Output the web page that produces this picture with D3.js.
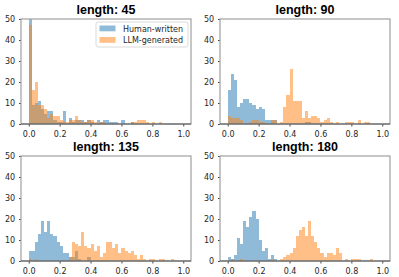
<!DOCTYPE html>
<html>
<head>
<meta charset="utf-8">
<script src="https://cdn.jsdelivr.net/npm/d3@7"></script>
<style>
  body { margin: 0; background: #fff; }
  svg { display: block; }
</style>
</head>
<body>
<div id="vis"></div>
<script>
// histogram counts, 50 bins of width 0.02 over [0, 1]
var binWidth = 0.02;
var titles = ["length: 45", "length: 90", "length: 135", "length: 180"];
var seriesNames = ["Human-written", "LLM-generated"];

var human45 = [60,9,10,11,7,5,6,6,2,1, 1,6,0,3,1,2,2,2,1,2, 1,0,2,1,2,2,1,1,1,0, 2,0,0,1,0,0,0,0,0,0, 0,0,0,0,0,0,0,0,0,0];
var llm45   = [47,16,20,9,9,7,3,5,4,4, 2,1,1,2,2,4,2,1,1,2, 2,1,0,1,1,0,0,0,0,0, 0,0,0,1,1,2,2,2,1,0, 1,0,1,0,0,0,0,0,0,0];

var human90 = [16,24,21,8,10,12,12,10,9,7, 8,7,2,2,2,2,0,0,0,0, 0,0,0,0,0,1,1,0,0,0, 0,0,0,0,0,0,0,0,0,0, 0,0,0,0,0,0,0,0,0,0];
var llm90   = [4,3,3,3,2,0,0,1,2,2, 1,1,0,0,2,2,0,1,8,14, 26,11,11,11,3,6,3,4,4,3, 1,2,3,1,0,1,0,0,1,1, 1,0,2,0,1,1,0,0,0,0];

var human135 = [5,5,9,13,19,14,19,13,12,9, 7,4,4,2,2,5,1,0,0,2, 0,0,0,0,0,0,0,0,0,0, 0,0,0,0,0,0,0,0,0,0, 0,0,0,0,0,0,0,0,0,0];
var llm135   = [1,0,1,0,0,0,0,0,0,0, 0,0,0,2,9,8,7,14,7,6, 8,5,7,2,4,9,9,6,8,4, 6,5,4,5,3,1,3,1,0,1, 1,0,1,1,0,0,1,0,0,0];

var human180 = [2,1,3,11,8,19,16,21,24,20, 10,5,6,1,3,1,0,0,0,0, 0,0,0,0,0,0,0,0,0,0, 0,0,0,0,0,0,0,0,0,0, 0,0,0,0,0,0,0,0,0,0];
var llm180   = [0,1,0,0,1,0,0,0,0,0, 0,0,0,0,1,0,0,1,2,3, 4,6,12,15,16,12,19,12,9,6, 4,2,4,4,3,6,4,0,1,0, 1,1,1,0,0,0,1,0,0,0];

var xTicks = [0, 0.2, 0.4, 0.6, 0.8, 1.0];
var yTicks = [0, 10, 20, 30, 40, 50];

var humanSeries = [human45, human90, human135, human180];
var llmSeries = [llm45, llm90, llm135, llm180];

var width = 399, height = 277;
var panelW = 170, panelH = 105;
var origins = [[21, 19], [220, 19], [21, 156], [220, 156]];
var colors = ["#1f77b4", "#ff7f0e"];

var svg = d3.select("#vis").append("svg")
  .attr("width", width)
  .attr("height", height);

var x = d3.scaleLinear().domain([-0.05, 1.05]).range([0, panelW]);
var y = d3.scaleLinear().domain([0, 50]).range([panelH, 0]);

titles.forEach(function (title, p) {
  var g = svg.append("g")
    .attr("transform", "translate(" + origins[p][0] + "," + origins[p][1] + ")");

  g.append("clipPath").attr("id", "clip" + p)
    .append("rect").attr("width", panelW).attr("height", panelH);

  var bars = g.append("g").attr("clip-path", "url(#clip" + p + ")");

  [humanSeries[p], llmSeries[p]].forEach(function (counts, s) {
    bars.append("g").selectAll("rect")
      .data(counts)
      .enter().append("rect")
      .attr("x", function (d, i) { return x(i * binWidth); })
      .attr("width", function (d, i) { return x((i + 1) * binWidth) - x(i * binWidth); })
      .attr("y", function (d) { return y(d); })
      .attr("height", function (d) { return y(0) - y(d); })
      .attr("fill", colors[s])
      .attr("fill-opacity", 0.5)
      .attr("shape-rendering", "crispEdges");
  });

  // x axis
  var xa = g.append("g")
    .attr("transform", "translate(0," + panelH + ")")
    .call(d3.axisBottom(x).tickValues(xTicks).tickFormat(d3.format(".1f")).tickSize(2.5).tickSizeOuter(0));
  // y axis
  var ya = g.append("g")
    .call(d3.axisLeft(y).tickValues(yTicks).tickSize(2).tickSizeOuter(0));

  [xa, ya].forEach(function (a) {
    a.select(".domain").remove();
    a.selectAll("text")
      .attr("font-family", "DejaVu Sans")
      .attr("font-size", 8)
      .attr("fill", "#262626");
    a.selectAll("line").attr("stroke", "#444");
  });
  xa.selectAll("text").attr("dy", "0.9em");
  ya.selectAll("text").attr("dx", "-0.1em");

  // spines
  g.append("rect")
    .attr("width", panelW).attr("height", panelH)
    .attr("fill", "none").attr("stroke", "#a0a0a0").attr("stroke-width", 1.2);
  g.append("line")
    .attr("x1", 0).attr("x2", panelW)
    .attr("y1", panelH).attr("y2", panelH)
    .attr("stroke", "#555").attr("stroke-width", 1.2);

  g.append("text")
    .attr("x", panelW / 2).attr("y", -5.5)
    .attr("text-anchor", "middle")
    .attr("font-family", "Liberation Sans, Arial, sans-serif")
    .attr("font-weight", "bold")
    .attr("font-size", 12.5)
    .attr("fill", "#000")
    .text(title);

  if (p === 0) {
    var leg = g.append("g").attr("transform", "translate(75,3)");
    leg.append("rect")
      .attr("width", 92).attr("height", 25).attr("rx", 2)
      .attr("fill", "#fff").attr("fill-opacity", 0.8)
      .attr("stroke", "#d0d0d0").attr("stroke-width", 0.8);
    seriesNames.forEach(function (name, s) {
      leg.append("rect")
        .attr("x", 3.5).attr("y", 3.5 + s * 11.5)
        .attr("width", 16).attr("height", 5.8)
        .attr("fill", colors[s]).attr("fill-opacity", 0.5);
      leg.append("text")
        .attr("x", 27).attr("y", 9.5 + s * 11.5)
        .attr("font-family", "DejaVu Sans")
        .attr("font-size", 8)
        .attr("fill", "#262626")
        .text(name);
    });
  }
});
</script>
</body>
</html>
